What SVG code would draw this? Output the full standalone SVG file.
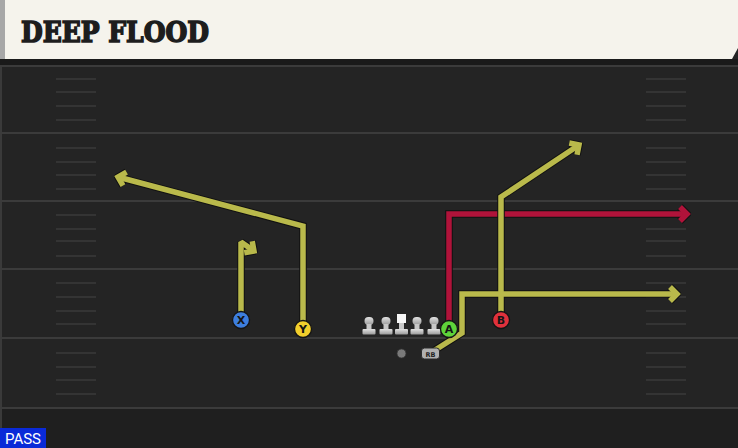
<svg xmlns="http://www.w3.org/2000/svg" width="738" height="448" viewBox="0 0 738 448">
<defs>
<style>
.yl{stroke:#3b3b3b;stroke-width:2;fill:none}
.hm{stroke:#3a3a3a;stroke-width:1.5;fill:none}
.rt-o{fill:none;stroke:#111111;stroke-width:7.5;stroke-linejoin:miter;stroke-miterlimit:2}
.rt-y{fill:none;stroke:#b9b94b;stroke-width:5.5;stroke-linejoin:miter;stroke-miterlimit:2}
.rt-r{fill:none;stroke:#b0133a;stroke-width:5.5;stroke-linejoin:miter;stroke-miterlimit:2}
.pl{stroke:#151515;stroke-width:1.3}
.lbl{font-family:"DejaVu Sans",sans-serif;font-weight:bold;font-size:11px;fill:#151515;text-anchor:middle}
</style>
<linearGradient id="lg" x1="0" y1="0" x2="0" y2="1">
<stop offset="0" stop-color="#e2e2e2"/><stop offset="1" stop-color="#9a9a9a"/>
</linearGradient>
<marker id="mo" viewBox="-14 -12 18 24" refX="0" refY="0" markerWidth="18" markerHeight="24" markerUnits="userSpaceOnUse" orient="auto">
<path d="M-7,-7 L0,0 L-7,7" fill="none" stroke="#111111" stroke-width="7.5"/>
</marker>
<marker id="my" viewBox="-14 -12 18 24" refX="0" refY="0" markerWidth="18" markerHeight="24" markerUnits="userSpaceOnUse" orient="auto">
<path d="M-7,-7 L0,0 L-7,7" fill="none" stroke="#b9b94b" stroke-width="5.5"/>
</marker>
<marker id="mr" viewBox="-14 -12 18 24" refX="0" refY="0" markerWidth="18" markerHeight="24" markerUnits="userSpaceOnUse" orient="auto">
<path d="M-7,-7 L0,0 L-7,7" fill="none" stroke="#b0133a" stroke-width="5.5"/>
</marker>
<g id="lman">
<rect x="-4.5" y="-11" width="9" height="8" rx="4" fill="url(#lg)"/>
<rect x="-2.5" y="-4" width="5" height="6" fill="#c8c8c8"/>
<rect x="-6.5" y="1" width="13" height="5.5" rx="1" fill="url(#lg)"/>
</g>
</defs>

<rect x="0" y="0" width="738" height="448" fill="#242424"/>
<rect x="0" y="409" width="738" height="39" fill="#1f1f1f"/>
<rect x="0" y="0" width="2" height="448" fill="#3a3a3a"/>

<g id="field">
<line class="yl" x1="0" y1="66" x2="738" y2="66"/>
<line class="yl" x1="0" y1="133" x2="738" y2="133"/>
<line class="yl" x1="0" y1="201" x2="738" y2="201"/>
<line class="yl" x1="0" y1="269" x2="738" y2="269"/>
<line class="yl" x1="0" y1="338" x2="738" y2="338"/>
<line class="yl" x1="0" y1="408" x2="738" y2="408"/>
<path class="hm" d="M56,79H96M56,92H96M56,106H96M56,120H96M56,148H96M56,162H96M56,175H96M56,189H96M56,215H96M56,229H96M56,241H96M56,256H96M56,283H96M56,297H96M56,311H96M56,324H96M56,353H96M56,367H96M56,380H96M56,394H96"/>
<path class="hm" d="M646,79H686M646,92H686M646,106H686M646,120H686M646,148H686M646,162H686M646,175H686M646,189H686M646,215H686M646,229H686M646,241H686M646,256H686M646,283H686M646,297H686M646,311H686M646,324H686M646,353H686M646,367H686M646,380H686M646,394H686"/>
</g>

<g id="header">
<rect x="0" y="59" width="738" height="6" fill="#1a1a1a"/>
<path d="M4,0 H738 V48 L732,59 H4 Z" fill="#f5f3ec"/>
<rect x="0" y="0" width="5" height="59" fill="#a7a7a7"/>
<text x="21" y="42" font-family="DejaVu Serif,serif" font-weight="bold" font-size="28" fill="#1d1d1d" stroke="#1d1d1d" stroke-width="1.6" stroke-linejoin="miter" textLength="188" lengthAdjust="spacingAndGlyphs">DEEP FLOOD</text>
</g>

<g id="connectors">
<path class="rt-o" d="M449,328 V214 H687" marker-end="url(#mo)"/>
<path class="rt-r" d="M449,328 V214 H687" marker-end="url(#mr)"/>
<path class="rt-o" d="M241,320 V242 L254,251" marker-end="url(#mo)"/>
<path class="rt-o" d="M303,329 V226 L118,177" marker-end="url(#mo)"/>
<path class="rt-o" d="M501,320 V197 L579,145" marker-end="url(#mo)"/>
<path class="rt-o" d="M432,352 L462,333 V294 H677" marker-end="url(#mo)"/>
<path class="rt-y" d="M241,320 V242 L254,251" marker-end="url(#my)"/>
<path class="rt-y" d="M303,329 V226 L118,177" marker-end="url(#my)"/>
<path class="rt-y" d="M501,320 V197 L579,145" marker-end="url(#my)"/>
<path class="rt-y" d="M432,352 L462,333 V294 H677" marker-end="url(#my)"/>
</g>

<g id="line">
<use href="#lman" x="369" y="328"/>
<use href="#lman" x="386" y="328"/>
<use href="#lman" x="417" y="328"/>
<use href="#lman" x="434" y="328"/>
</g>
<g id="C">
<rect x="397" y="314" width="9" height="9" fill="#f6f6f6"/>
<rect x="399" y="323" width="5" height="6" fill="#c8c8c8"/>
<rect x="395" y="329" width="13" height="5.5" rx="1" fill="url(#lg)"/>
</g>
<g id="QB"><circle cx="401.5" cy="353.5" r="4.5" fill="#7a7a7a" stroke="#333" stroke-width="0.8"/></g>
<g id="RB">
<rect x="421.5" y="348" width="18" height="11" rx="3" fill="#b0b0b0" stroke="#2a2a2a" stroke-width="1"/>
<text x="430.5" y="356.5" font-family="DejaVu Sans,sans-serif" font-weight="bold" font-size="6.5" fill="#222" text-anchor="middle">RB</text>
</g>
<g id="X"><circle class="pl" cx="241" cy="320" r="8.5" fill="#3d7ede"/><text class="lbl" x="241" y="324">X</text></g>
<g id="Y"><circle class="pl" cx="303" cy="329" r="8.5" fill="#f2cf2c"/><text class="lbl" x="303" y="333">Y</text></g>
<g id="A"><circle class="pl" cx="449" cy="329" r="8.5" fill="#5ed33a"/><text class="lbl" x="449" y="333">A</text></g>
<g id="B"><circle class="pl" cx="501" cy="320" r="8.5" fill="#e0313c"/><text class="lbl" x="501" y="324">B</text></g>

<g id="pass">
<rect x="0" y="428" width="46" height="20" fill="#0a2ad8"/>
<text x="23" y="444" font-family="Roboto,sans-serif" font-size="15" fill="#ffffff" text-anchor="middle">PASS</text>
</g>
</svg>
